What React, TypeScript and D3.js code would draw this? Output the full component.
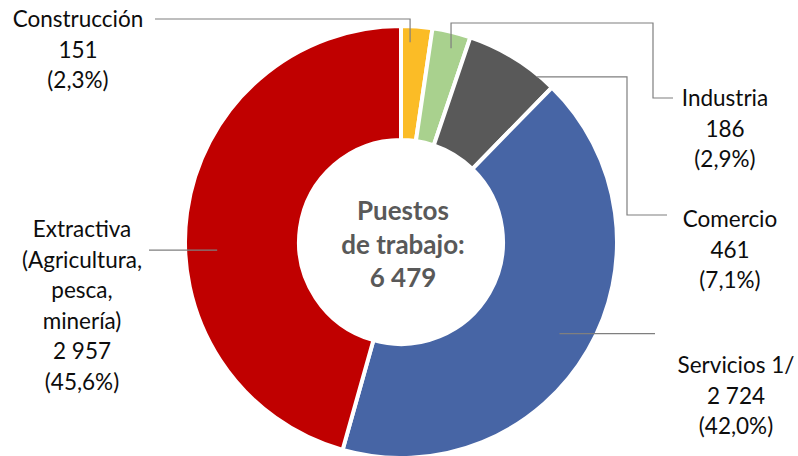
import { useMemo } from 'react';
import * as d3 from 'd3';

const width = 798;
const height = 456;

// data
const categories = ['Construcción', 'Industria', 'Comercio', 'Servicios 1/', 'Extractiva'];
const values = [151, 186, 461, 2724, 2957];
const colors = ['#FBBC26', '#A9D18E', '#595959', '#4765A5', '#C00000'];
const labelNames = [
  ['Construcción'],
  ['Industria'],
  ['Comercio'],
  ['Servicios 1/'],
  ['Extractiva', '(Agricultura,', 'pesca,', 'minería)'],
];
const centerLines = ['Puestos', 'de trabajo:', '6 479'];

// label layout (text block centre x, first baseline, anchor inside slice, leader bends)
const labelLayout = [
  { x: 78, y: 27, frac: 0.31, r: 200, bends: (a: number[]) => [[a[0], 19], [155, 19]] },
  { x: 725, y: 106, frac: 0.59, r: 200, bends: (a: number[]) => [[a[0], 23], [653, 23], [653, 98], [673, 98]] },
  { x: 730, y: 227, frac: 0.81, r: 214, bends: (a: number[]) => [[627, a[1]], [627, 215], [667, 215]] },
  { x: 736, y: 373, frac: 0.5, r: 183, bends: (a: number[]) => [[655, a[1]]] },
  { x: 82, y: 237, frac: 0.437, r: 184, bends: (a: number[]) => [[149, a[1]]] },
];

const cx = 401;
const cy = 242;
const outerR = 216;
const innerR = 102;
const lineH = 30.6;

const fmtNum = (n: number) => d3.format(',')(n).replace(/,/g, ' ');
const fmtPct = (p: number) => '(' + d3.format('.1f')(p * 100).replace('.', ',') + '%)';

export default function App() {
  const total = d3.sum(values);
  const arcs = useMemo(() => {
    const pie = d3.pie<number>().sort(null).value((d) => d);
    return pie(values);
  }, []);
  const arc = d3.arc<d3.PieArcDatum<number>>().innerRadius(innerR).outerRadius(outerR);

  return (
    <svg width={width} height={height} style={{ position: 'absolute', left: 0, top: 0, background: '#fff' }}
      fontFamily="Lato, 'Open Sans', sans-serif">
      <g transform={`translate(${cx},${cy})`}>
        {arcs.map((a, i) => (
          <path key={categories[i]} d={arc(a) || ''} fill={colors[i]} stroke="#fff" strokeWidth={4} strokeLinejoin="round" />
        ))}
      </g>
      {arcs.map((a, i) => {
        const L = labelLayout[i];
        const ang = a.startAngle + (a.endAngle - a.startAngle) * L.frac;
        const anchor = [cx + L.r * Math.sin(ang), cy - L.r * Math.cos(ang)];
        const pts = [anchor, ...L.bends(anchor)];
        return (
          <polyline key={'l' + i} points={pts.map((p) => p.join(',')).join(' ')} fill="none" stroke="#7F7F7F" strokeWidth={1.2} />
        );
      })}
      {arcs.map((a, i) => {
        const L = labelLayout[i];
        const lines = [...labelNames[i], fmtNum(values[i]), fmtPct(values[i] / total)];
        return (
          <text key={'t' + i} textAnchor="middle" fontSize={22.5} fill="#0D0D0D">
            {lines.map((s, j) => (
              <tspan key={j} x={L.x} y={L.y + j * lineH}>{s}</tspan>
            ))}
          </text>
        );
      })}
      <text textAnchor="middle" fontSize={26} fontWeight="bold" fill="#595959">
        {centerLines.map((s, j) => (
          <tspan key={j} x={403} y={220 + j * 33.5}>{s}</tspan>
        ))}
      </text>
    </svg>
  );
}
